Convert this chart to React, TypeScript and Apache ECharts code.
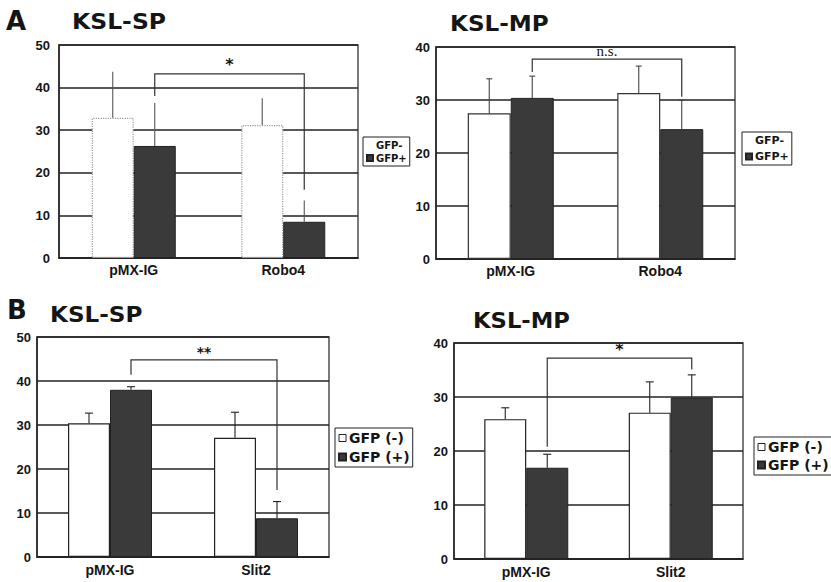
import React, { useEffect, useRef } from 'react';
import * as echarts from 'echarts';

// ---------- data ----------
const catsA = ['pMX-IG', 'Robo4'];
const catsB = ['pMX-IG', 'Slit2'];
const namesA = ['GFP-', 'GFP+'];
const namesB = ['GFP (-)', 'GFP (+)'];

// Panel A, KSL-SP
const aSpNeg = [32.9, 31.2];
const aSpNegErr = [43.7, 37.5];
const aSpPos = [26.3, 8.5];
const aSpPosErr = [36.4, 13.5];
const aSpBracket = [38, 16, 43.2]; // left leg bottom, right leg bottom, top
// Panel A, KSL-MP
const aMpNeg = [27.5, 31.3];
const aMpNegErr = [34, 36.4];
const aMpPos = [30.4, 24.5];
const aMpPosErr = [34.5, 30];
const aMpBracket = [35.3, 30.6, 37.7];
// Panel B, KSL-SP
const bSpNeg = [30.4, 27.1];
const bSpNegErr = [32.7, 32.9];
const bSpPos = [38, 8.8];
const bSpPosErr = [38.7, 12.6];
const bSpBracket = [41.4, 15.2, 44.8];
// Panel B, KSL-MP
const bMpNeg = [25.9, 27.1];
const bMpNegErr = [28, 32.8];
const bMpPos = [16.9, 29.9];
const bMpPosErr = [19.4, 34.1];
const bMpBracket = [20.8, 35.1, 37.2];

const sigLabels = ['*', 'n.s.', '**', '*'];
const yMax = [50, 40, 50, 40];
const yTicks = 10;

// ---------- layout / style ----------
const panels = [
  {
    grid: { left: 59, top: 45, width: 299, height: 213 }, cats: catsA, names: namesA,
    neg: aSpNeg, negErr: aSpNegErr, pos: aSpPos, posErr: aSpPosErr, bracket: aSpBracket,
    barW: 42, labelMargin: 9, xMargin: 5, whiteBorder: '#9a9a9a', whiteType: 'dotted',
    errColor: '#555', cap: 0, sigFont: 'bold 16px "DejaVu Sans"', hideNegIcon: true,
    legend: { left: 363, top: 137 }, legendFont: 10, legendIcon: 6, legendGap: 3,
  },
  {
    grid: { left: 436, top: 47, width: 299, height: 212 }, cats: catsA, names: namesA,
    neg: aMpNeg, negErr: aMpNegErr, pos: aMpPos, posErr: aMpPosErr, bracket: aMpBracket,
    barW: 43, labelMargin: 6, xMargin: 5, whiteBorder: '#333', whiteType: 'solid',
    errColor: '#444', cap: 3, sigFont: '15px "Liberation Serif"', hideNegIcon: true,
    legend: { left: 742, top: 132 }, legendFont: 11, legendIcon: 6, legendGap: 5,
  },
  {
    grid: { left: 37, top: 337, width: 292, height: 220 }, cats: catsB, names: namesB,
    neg: bSpNeg, negErr: bSpNegErr, pos: bSpPos, posErr: bSpPosErr, bracket: bSpBracket,
    barW: 42, labelMargin: 6, xMargin: 6, whiteBorder: '#222', whiteType: 'solid',
    errColor: '#222', cap: 4, sigFont: 'bold 14px "DejaVu Sans"', hideNegIcon: false,
    legend: { left: 335, top: 428 }, legendFont: 14, legendIcon: 7, legendGap: 5,
  },
  {
    grid: { left: 454, top: 343, width: 289, height: 216 }, cats: catsB, names: namesB,
    neg: bMpNeg, negErr: bMpNegErr, pos: bMpPos, posErr: bMpPosErr, bracket: bMpBracket,
    barW: 42, labelMargin: 6, xMargin: 6, whiteBorder: '#222', whiteType: 'solid',
    errColor: '#222', cap: 4, sigFont: 'bold 16px "DejaVu Sans"', hideNegIcon: false,
    legend: { left: 754, top: 437 }, legendFont: 14, legendIcon: 7, legendGap: 4,
  },
];

const DARK = '#3a3a3a';
const INK = '#151515';

function buildOption() {
  const grid: any[] = [];
  const xAxis: any[] = [];
  const yAxis: any[] = [];
  const series: any[] = [];
  const legend: any[] = [];

  panels.forEach((p, i) => {
    grid.push({ ...p.grid, show: true, borderColor: '#333', borderWidth: 1.3, backgroundColor: 'transparent' });
    xAxis.push({
      type: 'category', gridIndex: i, data: p.cats,
      axisTick: { show: false },
      axisLine: { lineStyle: { color: '#222', width: 1.5 } },
      axisLabel: { color: INK, fontWeight: 'bold', fontSize: 14, fontFamily: '"Liberation Sans", Arial', margin: p.xMargin },
    });
    yAxis.push({
      type: 'value', gridIndex: i, min: 0, max: yMax[i], interval: yTicks,
      axisLine: { show: true, lineStyle: { color: '#222', width: 1.5 } },
      axisTick: { show: false },
      splitLine: { lineStyle: { color: '#222', width: 1.5 } },
      axisLabel: { color: INK, fontWeight: 'bold', fontSize: 13, fontFamily: '"Liberation Sans", Arial', margin: p.labelMargin },
    });
    series.push({
      type: 'bar', name: p.names[0], xAxisIndex: i, yAxisIndex: i, data: p.neg,
      barWidth: p.barW, barGap: '0%',
      itemStyle: { color: '#ffffff', borderColor: p.whiteBorder, borderWidth: 1.2, borderType: p.whiteType },
      z: 3,
    });
    series.push({
      type: 'bar', name: p.names[1], xAxisIndex: i, yAxisIndex: i, data: p.pos,
      barWidth: p.barW, barGap: '0%',
      itemStyle: { color: DARK, borderColor: '#222', borderWidth: 1 },
      z: 3,
    });
    const errData: number[][] = [];
    p.cats.forEach((_, c) => {
      errData.push([c, p.neg[c], p.negErr[c], 0]);
      errData.push([c, p.pos[c], p.posErr[c], 1]);
    });
    const half = p.barW / 2;
    series.push({
      type: 'custom', xAxisIndex: i, yAxisIndex: i, silent: true, z: 5,
      encode: { x: 0, y: 1 },
      data: errData,
      renderItem: (params: any, api: any) => {
        const side = api.value(3) === 0 ? -1 : 1;
        const base = api.coord([api.value(0), api.value(1)]);
        const top = api.coord([api.value(0), api.value(2)]);
        const x = base[0] + side * half;
        const style = { stroke: p.errColor, lineWidth: 1.1 };
        const children: any[] = [
          { type: 'line', shape: { x1: x, y1: base[1], x2: x, y2: top[1] }, style },
        ];
        if (p.cap > 0) {
          children.push({ type: 'line', shape: { x1: x - p.cap, y1: top[1], x2: x + p.cap, y2: top[1] }, style });
        }
        return { type: 'group', children };
      },
    });
    series.push({
      type: 'custom', xAxisIndex: i, yAxisIndex: i, silent: true, z: 6,
      encode: { x: 0, y: 4 },
      data: [[0, 1, p.bracket[0], p.bracket[1], p.bracket[2]]],
      renderItem: (params: any, api: any) => {
        const xl = api.coord([api.value(0), 0])[0] + half;
        const xr = api.coord([api.value(1), 0])[0] + half;
        const yl = api.coord([0, api.value(2)])[1];
        const yr = api.coord([0, api.value(3)])[1];
        const yt = api.coord([0, api.value(4)])[1];
        return {
          type: 'group',
          children: [
            { type: 'polyline', shape: { points: [[xl, yl], [xl, yt], [xr, yt], [xr, yr]] }, style: { stroke: '#333', lineWidth: 1.2, fill: 'none' } },
            { type: 'text', x: (xl + xr) / 2, y: yt - 1, style: { text: sigLabels[i], font: p.sigFont, fill: INK, textAlign: 'center', textVerticalAlign: 'bottom' } },
          ],
        };
      },
    });
    legend.push({
      data: [
        p.hideNegIcon
          ? { name: p.names[0], itemStyle: { color: '#fff', borderColor: '#fff' } }
          : { name: p.names[0], itemStyle: { color: '#fff', borderColor: '#222', borderWidth: 1 } },
        { name: p.names[1] },
      ],
      icon: 'rect',
      orient: 'vertical', left: p.legend.left, top: p.legend.top,
      borderColor: '#222', borderWidth: 1, padding: [3, 3, 3, 3], itemGap: p.legendGap,
      itemWidth: p.legendIcon, itemHeight: p.legendIcon,
      textStyle: { fontSize: p.legendFont, fontWeight: 'bold', color: INK, fontFamily: '"DejaVu Sans", sans-serif', padding: [0, 0, 0, -2] },
      selectedMode: false, backgroundColor: '#fff',
    });
  });

  const titleFont = (s: number) => `bold ${s}px "DejaVu Sans", sans-serif`;
  const graphic = [
    { type: 'text', x: 6, y: 21, style: { text: 'A', font: titleFont(26), fill: INK, textVerticalAlign: 'middle' } },
    { type: 'text', x: 72, y: 21, scaleX: 1.12, style: { text: 'KSL-SP', font: titleFont(21), fill: INK, textVerticalAlign: 'middle' } },
    { type: 'text', x: 450, y: 24, scaleX: 1.1, style: { text: 'KSL-MP', font: titleFont(21), fill: INK, textVerticalAlign: 'middle' } },
    { type: 'text', x: 7, y: 310, style: { text: 'B', font: titleFont(26), fill: INK, textVerticalAlign: 'middle' } },
    { type: 'text', x: 50, y: 315, scaleX: 1.1, style: { text: 'KSL-SP', font: titleFont(21), fill: INK, textVerticalAlign: 'middle' } },
    { type: 'text', x: 473, y: 321, scaleX: 1.08, style: { text: 'KSL-MP', font: titleFont(21), fill: INK, textVerticalAlign: 'middle' } },
  ];

  return { animation: false, backgroundColor: '#fff', grid, xAxis, yAxis, series, legend, graphic };
}

export default function App() {
  const ref = useRef<HTMLDivElement>(null);
  useEffect(() => {
    document.body.style.margin = '0';
    if (!ref.current) return;
    const chart = echarts.init(ref.current, undefined, { renderer: 'svg' });
    chart.setOption(buildOption() as any);
    return () => chart.dispose();
  }, []);
  return <div ref={ref} style={{ width: 831, height: 582 }} />;
}
